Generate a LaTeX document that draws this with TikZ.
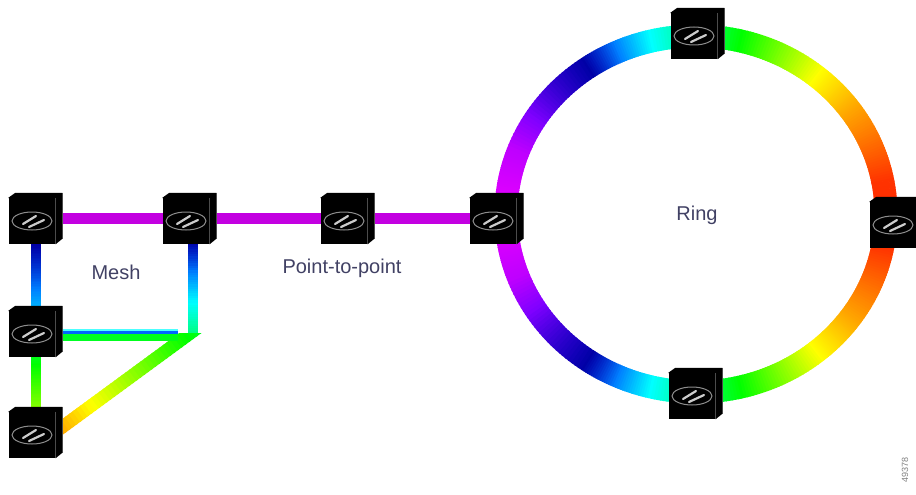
\documentclass[tikz,border=0pt]{standalone}
\usepackage{fontspec}
\setmainfont{Liberation Sans}
\usetikzlibrary{calc, backgrounds}
\selectcolormodel{rgb}

% hue -> colour of the link, blue a little darker
\newcommand{\setsegcolor}[1]{%
  \pgfmathsetmacro{\segbri}{1-0.35*max(0,1-abs(#1-240)/30)}%
  \definecolor{segcol}{Hsb}{#1,1,\segbri}%
}
% straight link with a hue running from end to end
\newcommand{\hueline}[5][10]{%
  \foreach \i in {0,...,39} {
    \pgfmathsetmacro{\huenow}{#4+(#5-#4)*\i/40}
    \pgfmathsetmacro{\ta}{\i/40}
    \pgfmathsetmacro{\tb}{min(1,(\i+1.4)/40)}
    \setsegcolor{\huenow}
    \draw[color=segcol, line width=#1] ($(#2)!\ta!(#3)$) -- ($(#2)!\tb!(#3)$);
  }%
}
% ring piece, t is measured from the left; #1 = side (+1 top, -1 bottom)
\newcommand{\ringpiece}[5]{%
  \foreach \i in {0,...,29} {
    \pgfmathsetmacro{\huenow}{#4+(#5-#4)*\i/30}
    \pgfmathsetmacro{\ta}{180+#1*(#2+(#3-#2)*\i/30)}
    \pgfmathsetmacro{\tb}{180+#1*(#2+(#3-#2)*(\i+1.5)/30)}
    \setsegcolor{\huenow}
    \draw[color=segcol, line width=23] ($(ringc)+(\ta:190 and 178)$) -- ($(ringc)+(\tb:190 and 178)$);
  }%
}
% switch box: front face, top and side, then the ellipse with its two strokes
\newcommand{\switchbox}[2]{%
  \node[swfront] (#1) at (#2) {};
  \fill[black] (#1.north west) -- ++(7,-5) -- ++(47,0) -- ++(0,46) -- (#1.south east) -- cycle;
  \draw[swedge] (#1.north east) -- (#1.south east);
  \draw[swedge] (#1.north east) ++(7,-5) -- ++(0,46);
  \draw[swring] (#1) ellipse (20 and 9);
  \draw[swmark] ($(#1)+(-9,3)$) -- ($(#1)+(4,-5)$);
  \draw[swmark] ($(#1)+(-3,6)$) -- ($(#1)+(12,-1)$);
}

\begin{document}
\begin{tikzpicture}[
    x=1pt, y=-1pt,
    swfront/.style={rectangle, fill=black, minimum width=47pt, minimum height=46pt, inner sep=0pt},
    swedge/.style={draw=gray!60!black, line width=0.7pt},
    swring/.style={draw=gray!90, line width=1pt},
    swmark/.style={draw=gray!40, line width=2.2pt, line cap=round},
    plink/.style={draw=linkpurple, line width=11pt},
    label/.style={font=\fontsize{20}{24}\selectfont, text=labelblue, inner sep=0pt}
]
\definecolor{linkpurple}{RGB}{195,0,225}
\definecolor{labelblue}{RGB}{65,65,100}
\useasboundingbox (0,0) rectangle (916,495);

% point-to-point row
\switchbox{swa}{32,221}
\switchbox{swb}{186,221}
\switchbox{swc}{344,221}
\switchbox{swd}{493,221}
% mesh
\switchbox{swe}{32,334}
\switchbox{swf}{32,435}
% ring
\coordinate (ringc) at (696,214);
\switchbox{swg}{694,36}
\switchbox{swh}{893,225}
\switchbox{swi}{692,396}

\coordinate (meshj) at (193,333);
\coordinate (meshi) at (193,240);
\coordinate (meshk) at (200,326);
\coordinate (meshm) at (50,436);
\coordinate (meshl) at (178,334);

\begin{scope}[on background layer]
% ring colours, same run on both halves
\foreach \side in {1,-1} {
  \ringpiece{\side}{0}{20}{295}{285}
  \ringpiece{\side}{20}{55}{285}{240}
  \ringpiece{\side}{55}{76}{240}{180}
  \ringpiece{\side}{76}{103}{180}{120}
  \ringpiece{\side}{103}{129}{120}{60}
  \ringpiece{\side}{129}{145}{60}{38}
  \ringpiece{\side}{145}{169}{38}{12}
  \ringpiece{\side}{169}{180}{12}{10}
}
\draw[plink] ([yshift=3pt]swa.center) -- ([yshift=3pt]swb.center);
\draw[plink] ([yshift=3pt]swb.center) -- ([yshift=3pt]swc.center);
\draw[plink] ([yshift=3pt]swc.center) -- ([yshift=3pt]swd.center);
\hueline{[xshift=4pt]swa.south}{[xshift=4pt]swe.north}{240}{195}
\hueline{[xshift=4pt]swe.south}{[xshift=4pt]swf.north}{125}{85}
\hueline{meshi}{meshj}{240}{150}
% the diagonal is cut off level with the foot of the upright
\begin{scope}
\clip (0,333) rectangle (916,495);
\hueline[13]{meshm}{meshk}{35}{130}
\end{scope}
\hueline[8]{[yshift=-3pt]swe.center}{[yshift=-3pt]meshl}{130}{125}
\draw[draw=cyan!70, line width=2pt] ([yshift=4.5pt]swe.center) -- ([yshift=4.5pt]meshl);
\draw[draw=blue!60!cyan, line width=3pt] ([yshift=2pt]swe.center) -- ([yshift=2pt]meshl);
\end{scope}

\node[label] (mesh) at (116,272) {Mesh};
\node[label] (ptp) at (342,268) {Point-to-point};
\node[label] (ring) at (697,215) {Ring};
\node[font=\fontsize{9}{10}\selectfont, text=gray, rotate=90, inner sep=0pt] (fignum) at (905,470) {49378};
\end{tikzpicture}
\end{document}
